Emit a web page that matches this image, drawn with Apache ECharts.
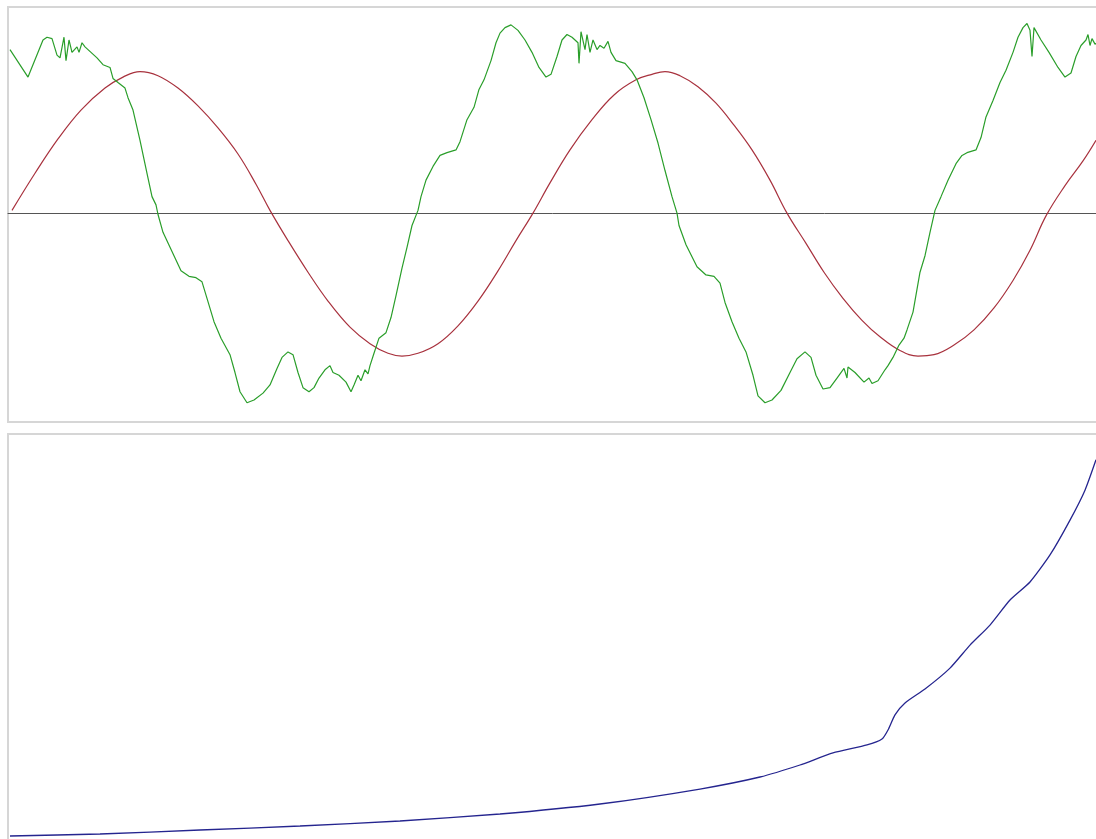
<!DOCTYPE html>
<html>
<head>
<meta charset="utf-8">
<script src="https://cdn.jsdelivr.net/npm/echarts@6/dist/echarts.min.js"></script>
<style>
html,body{margin:0;padding:0;background:#fff;}
#c{width:1096px;height:839px;}
</style>
</head>
<body>
<div id="c"></div>
<script>
// Top panel: green (noisy signal) and red (smooth wave)
const greenT = [2,20,35,39,44,49,52,56,58,61,64,69,71,74,77,80,89,95,102,105,110,117,120,125,132,139,144,148,150,155,164,173,181,188,194,199,206,213,222,227,232,239,246,255,262,269,274,280,285,290,295,301,306,311,317,322,325,331,338,343,346,350,353,357,360,362,366,371,378,383,388,394,399,404,410,413,418,425,432,439,448,452,459,466,471,476,483,488,492,497,503,510,517,524,531,538,543,549,554,559,564,570,571,573,577,579,582,585,589,592,596,600,603,608,617,624,629,636,643,650,657,664,669,671,678,689,698,706,712,717,724,731,738,745,750,757,764,773,782,789,797,803,808,815,822,829,836,839,840,847,856,861,864,870,877,880,885,891,896,899,905,912,917,922,927,933,940,948,954,959,968,973,978,985,992,998,1005,1010,1015,1019,1022,1024,1026,1033,1041,1050,1057,1063,1068,1073,1078,1080,1082,1084,1087,1092];
const greenV = [1.19,0.99,1.26,1.28,1.27,1.15,1.13,1.28,1.11,1.26,1.17,1.21,1.17,1.24,1.21,1.19,1.13,1.08,1.06,0.98,0.95,0.91,0.84,0.75,0.53,0.29,0.12,0.06,-0.01,-0.14,-0.28,-0.42,-0.46,-0.47,-0.50,-0.62,-0.79,-0.91,-1.03,-1.16,-1.30,-1.38,-1.36,-1.31,-1.25,-1.13,-1.05,-1.01,-1.03,-1.16,-1.27,-1.30,-1.27,-1.20,-1.14,-1.11,-1.16,-1.18,-1.23,-1.30,-1.25,-1.18,-1.22,-1.14,-1.17,-1.11,-1.02,-0.91,-0.87,-0.76,-0.60,-0.40,-0.25,-0.09,0.02,0.12,0.24,0.34,0.42,0.44,0.46,0.52,0.68,0.77,0.90,0.97,1.11,1.24,1.31,1.35,1.37,1.33,1.26,1.17,1.06,0.99,1.01,1.14,1.26,1.30,1.28,1.24,1.09,1.32,1.19,1.30,1.17,1.26,1.19,1.22,1.20,1.25,1.17,1.11,1.09,1.03,0.97,0.84,0.68,0.51,0.31,0.12,0.00,-0.09,-0.23,-0.39,-0.45,-0.46,-0.51,-0.65,-0.79,-0.91,-1.01,-1.18,-1.33,-1.38,-1.36,-1.29,-1.16,-1.06,-1.01,-1.05,-1.18,-1.28,-1.27,-1.20,-1.13,-1.20,-1.12,-1.16,-1.23,-1.20,-1.24,-1.22,-1.14,-1.11,-1.05,-0.96,-0.91,-0.85,-0.72,-0.43,-0.31,-0.14,0.02,0.12,0.24,0.36,0.42,0.44,0.46,0.55,0.70,0.82,0.95,1.04,1.17,1.28,1.35,1.38,1.33,1.14,1.35,1.26,1.17,1.06,0.99,1.02,1.14,1.22,1.26,1.30,1.22,1.27,1.23,1.25];

const redT = [4,27,50,73,97,115,132,150,170,190,210,230,248,262,280,300,320,342,362,380,394,410,430,450,470,490,508,525,542,562,584,606,628,644,657,672,690,708,726,744,762,779,798,816,835,854,872,892,910,926,946,966,986,1005,1022,1038,1057,1075,1088];
const redV = [0.02,0.29,0.54,0.75,0.91,0.99,1.03,1.00,0.91,0.78,0.62,0.43,0.21,0.02,-0.20,-0.43,-0.64,-0.83,-0.95,-1.02,-1.04,-1.02,-0.95,-0.82,-0.64,-0.42,-0.20,0.00,0.22,0.46,0.68,0.86,0.97,1.01,1.03,1.00,0.92,0.80,0.64,0.46,0.24,0.00,-0.22,-0.43,-0.62,-0.78,-0.90,-1.00,-1.04,-1.03,-0.96,-0.85,-0.69,-0.49,-0.27,-0.02,0.20,0.38,0.53];

// Bottom panel: blue cumulative curve
const blueT = [2,92,192,292,392,492,592,692,752,792,825,859,874,880,887,897,917,942,962,982,1002,1022,1042,1062,1077,1088];
const blueV = [1.95,2.44,3.41,4.39,5.61,7.32,9.76,13.41,16.34,19.27,22.2,24.15,25.6,27.8,31.5,34.4,37.8,42.9,48.5,53.4,59.5,63.9,70.5,79.0,86.3,93.7];

const zip = (a, b) => a.map((t, i) => [t, b[i]]);

const chart = echarts.init(document.getElementById('c'), null, {renderer: 'canvas'});
const hiddenAxis = {
  axisLabel: {show: false}, axisTick: {show: false}, splitLine: {show: false}
};
chart.setOption({
  animation: false,
  backgroundColor: '#ffffff',
  grid: [
    {left: 8, top: 7, width: 1100, height: 415, outerBoundsMode: 'none', containLabel: false,
      show: true, borderColor: '#d6d6d6', borderWidth: 2, backgroundColor: '#fff'},
    {left: 8, top: 434, width: 1100, height: 410, outerBoundsMode: 'none', containLabel: false,
      show: true, borderColor: '#d6d6d6', borderWidth: 2, backgroundColor: '#fff'}
  ],
  xAxis: [
    Object.assign({type: 'value', gridIndex: 0, min: 0, max: 1100,
      axisLine: {show: true, onZero: true, lineStyle: {color: '#555555', width: 1}}}, hiddenAxis),
    Object.assign({type: 'value', gridIndex: 1, min: 0, max: 1100, axisLine: {show: false}}, hiddenAxis)
  ],
  yAxis: [
    Object.assign({type: 'value', gridIndex: 0, min: -1.52, max: 1.5, axisLine: {show: false}}, hiddenAxis),
    Object.assign({type: 'value', gridIndex: 1, min: 0, max: 100, axisLine: {show: false}}, hiddenAxis)
  ],
  series: [
    {type: 'line', xAxisIndex: 0, yAxisIndex: 0, data: zip(redT, redV), showSymbol: false, smooth: 0.4,
      lineStyle: {color: '#a8323e', width: 1.2}},
    {type: 'line', xAxisIndex: 0, yAxisIndex: 0, data: zip(greenT, greenV), showSymbol: false,
      lineStyle: {color: '#2a9e2a', width: 1.2}},
    {type: 'line', xAxisIndex: 1, yAxisIndex: 1, data: zip(blueT, blueV), showSymbol: false, smooth: 0.2,
      lineStyle: {color: '#25258f', width: 1.3}}
  ]
});
</script>
</body>
</html>
